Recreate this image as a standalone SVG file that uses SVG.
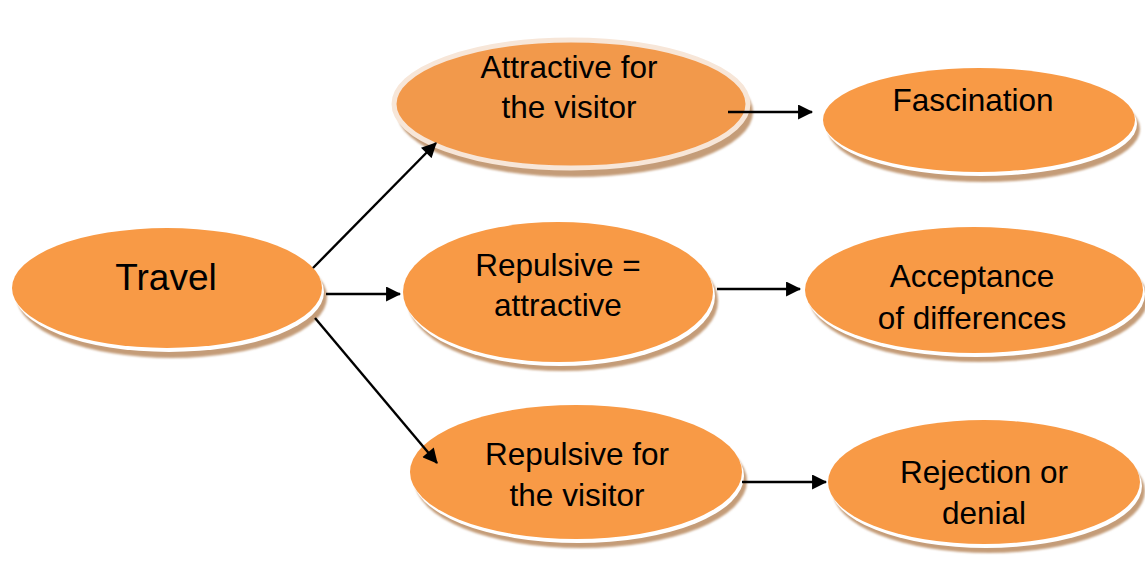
<svg xmlns="http://www.w3.org/2000/svg" width="1145" height="574" viewBox="0 0 1145 574">
<style>
.fill{fill:#F89A46}
.rim{fill:#FFFFFF}
.sh{fill:#C49C78;filter:url(#blur)}
.t{font-family:"Liberation Sans",Arial,sans-serif;font-size:31.5px;fill:#000;text-anchor:middle}
.c{stroke:#000;stroke-width:2.4;fill:none;marker-end:url(#ah)}
</style>
<defs>
<filter id="blur" x="-10%" y="-10%" width="120%" height="130%"><feGaussianBlur stdDeviation="0.8"/></filter>
<marker id="ah" viewBox="0 0 14 14" refX="13" refY="7" markerWidth="16" markerHeight="15" markerUnits="userSpaceOnUse" orient="auto"><path d="M0,0 L14,7 L0,14 z" fill="#000"/></marker>
</defs>
<rect width="1145" height="574" fill="#FFFFFF"/>

<g id="travel">
<ellipse class="sh" cx="172" cy="297" rx="155" ry="61"/>
<ellipse class="rim" cx="169" cy="292" rx="155" ry="60"/>
<ellipse class="fill" cx="167" cy="288" rx="155" ry="60"/>
<text class="t" x="166" y="290" style="font-size:37px">Travel</text>
</g>

<g id="attractive">
<ellipse class="sh" cx="575" cy="112" rx="178" ry="65"/>
<ellipse cx="571" cy="104" rx="177" ry="64" fill="#F2994B" stroke="#F7E6D8" stroke-width="5"/>
<text class="t" x="569" y="78">Attractive for</text>
<text class="t" x="569" y="118">the visitor</text>
</g>

<g id="fascination">
<ellipse class="sh" cx="984" cy="129" rx="156" ry="53"/>
<ellipse class="rim" cx="981" cy="124" rx="156" ry="52"/>
<ellipse class="fill" cx="979" cy="120" rx="156" ry="52"/>
<text class="t" x="973" y="111">Fascination</text>
</g>

<g id="repulsive-equal">
<ellipse class="sh" cx="563" cy="301" rx="155" ry="70"/>
<ellipse class="rim" cx="560" cy="296" rx="155" ry="70"/>
<ellipse class="fill" cx="558" cy="292" rx="155" ry="70"/>
<text class="t" x="558" y="276">Repulsive =</text>
<text class="t" x="558" y="316">attractive</text>
</g>

<g id="acceptance">
<ellipse class="sh" cx="979" cy="299" rx="169" ry="63"/>
<ellipse class="rim" cx="976" cy="294" rx="169" ry="63"/>
<ellipse class="fill" cx="974" cy="290" rx="169" ry="63"/>
<text class="t" x="972" y="287">Acceptance</text>
<text class="t" x="972" y="329">of differences</text>
</g>

<g id="repulsive-for">
<ellipse class="sh" cx="581" cy="481" rx="166" ry="67"/>
<ellipse class="rim" cx="578" cy="476" rx="166" ry="67"/>
<ellipse class="fill" cx="576" cy="472" rx="166" ry="67"/>
<text class="t" x="577" y="465">Repulsive for</text>
<text class="t" x="577" y="506">the visitor</text>
</g>

<g id="rejection">
<ellipse class="sh" cx="989" cy="491" rx="156" ry="62"/>
<ellipse class="rim" cx="986" cy="486" rx="156" ry="62"/>
<ellipse class="fill" cx="984" cy="482" rx="156" ry="62"/>
<text class="t" x="984" y="483">Rejection or</text>
<text class="t" x="984" y="524">denial</text>
</g>

<g id="connectors">
<line class="c" x1="313" y1="268" x2="436" y2="143"/>
<line class="c" x1="326" y1="294" x2="400" y2="294"/>
<line class="c" x1="315" y1="318" x2="437" y2="463"/>
<line class="c" x1="728" y1="112" x2="812" y2="112"/>
<line class="c" x1="717" y1="289" x2="800" y2="289"/>
<line class="c" x1="742" y1="482" x2="826" y2="482"/>
</g>
</svg>
